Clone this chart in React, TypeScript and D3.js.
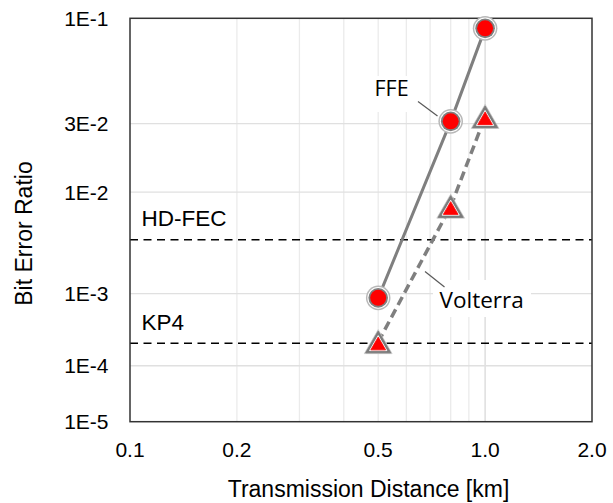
import React, { useEffect, useRef } from 'react';
import * as d3 from 'd3';

// distances [km]
const distances = [0.5, 0.8, 1.0];
const ffeBer = [8.9e-4, 3.1e-2, 9.1e-2];
const volterraBer = [2.3e-4, 7.6e-3, 3.3e-2];

const thresholds = [
  { name: 'HD-FEC', ber: 3.8e-3 },
  { name: 'KP4', ber: 2.2e-4 },
];

const xTicks = [0.1, 0.2, 0.5, 1.0, 2.0];
const xTickLabels = ['0.1', '0.2', '0.5', '1.0', '2.0'];
const xMinorGrid = [0.2, 0.3, 0.4, 0.5, 0.6, 0.7, 0.8, 0.9];
const yTicks = [1e-1, 3e-2, 1e-2, 1e-3, 1e-4, 1e-5];
const yTickLabels = ['1E-1', '3E-2', '1E-2', '1E-3', '1E-4', '1E-5'];

const W = 613;
const H = 503;

const App: React.FC = () => {
  const svgRef = useRef<SVGSVGElement>(null);

  useEffect(() => {
    if (!svgRef.current) return;
    const svg = d3.select(svgRef.current);
    svg.selectAll('*').remove();

    const left = 130, right = 592, top = 18.3, bottom = 421.7;

    const x = d3.scaleLog().domain([0.1, 2]).range([left, right]);
    // BER axis: log of -log10(BER)
    const yq = d3.scaleLog().domain([1, 5]).range([top, bottom]);
    const y = (b: number) => yq(-Math.log10(b));

    const sans = 'Liberation Sans, Arial, sans-serif';
    const calib = '"Open Sans", sans-serif';

    // grid
    const grid = svg.append('g');
    grid.selectAll('.vminor')
      .data(xMinorGrid)
      .enter().append('line')
      .attr('x1', d => x(d)).attr('x2', d => x(d))
      .attr('y1', top).attr('y2', bottom)
      .attr('stroke', '#ebebeb').attr('stroke-width', 1.3);
    grid.append('line')
      .attr('x1', x(1)).attr('x2', x(1))
      .attr('y1', top).attr('y2', bottom)
      .attr('stroke', '#d9d9d9').attr('stroke-width', 1.3);
    grid.selectAll('.hgrid')
      .data(yTicks.slice(1, -1))
      .enter().append('line')
      .attr('x1', left).attr('x2', right)
      .attr('y1', d => y(d)).attr('y2', d => y(d))
      .attr('stroke', '#e0e0e0').attr('stroke-width', 1.3);

    // threshold lines
    thresholds.forEach(t => {
      svg.append('line')
        .attr('x1', left).attr('x2', right)
        .attr('y1', y(t.ber)).attr('y2', y(t.ber))
        .attr('stroke', '#000').attr('stroke-width', 1.5)
        .attr('stroke-dasharray', '8,5.5');
      svg.append('text')
        .attr('x', 141.5).attr('y', y(t.ber) - 13.5)
        .attr('font-family', sans).attr('font-size', 22.5)
        .attr('fill', '#000')
        .text(t.name);
    });

    // frame
    svg.append('rect')
      .attr('x', left).attr('y', top)
      .attr('width', right - left).attr('height', bottom - top)
      .attr('fill', 'none').attr('stroke', '#333').attr('stroke-width', 1.5);

    // series lines
    const line = d3.line<[number, number]>()
      .x(d => x(d[0]))
      .y(d => y(d[1]));

    svg.append('path')
      .datum(distances.map((d, i) => [d, ffeBer[i]] as [number, number]))
      .attr('d', line)
      .attr('fill', 'none').attr('stroke', '#7f7f7f').attr('stroke-width', 3);

    svg.append('path')
      .datum(distances.map((d, i) => [d, volterraBer[i]] as [number, number]))
      .attr('d', line)
      .attr('fill', 'none').attr('stroke', '#7f7f7f').attr('stroke-width', 3.5)
      .attr('stroke-dasharray', '9,5');

    // circle markers
    const circ = svg.selectAll('.ffe')
      .data(distances.map((d, i) => [d, ffeBer[i]]))
      .enter().append('g')
      .attr('transform', d => `translate(${x(d[0])},${y(d[1])})`);
    [[12.3, '#b8b8b8'], [10.8, '#fff'], [9.8, '#7f7f7f'], [8, '#ff0000']].forEach(([r, c]) => {
      circ.append('circle').attr('r', r as number).attr('fill', c as string);
    });

    // triangle markers
    const tri = (R: number) => {
      const pts = [-90, 30, 150].map(a => {
        const rad = (a * Math.PI) / 180;
        return [R * Math.cos(rad), R * Math.sin(rad)];
      });
      return 'M' + pts.map(p => p.join(',')).join('L') + 'Z';
    };
    const trig = svg.selectAll('.vol')
      .data(distances.map((d, i) => [d, volterraBer[i]]))
      .enter().append('g')
      .attr('transform', d => `translate(${x(d[0])},${y(d[1]) + 3.6})`);
    [[16, '#c4c4c4'], [14.5, '#7a7a7a'], [10, '#fff'], [8.5, '#ff0000']].forEach(([r, c]) => {
      trig.append('path').attr('d', tri(r as number)).attr('fill', c as string)
        .attr('stroke', c as string).attr('stroke-width', 0.8).attr('stroke-linejoin', 'round');
    });

    // series labels
    svg.append('rect').attr('x', 370).attr('y', 76).attr('width', 46).attr('height', 36).attr('fill', '#fff');
    svg.append('text')
      .attr('x', 374.5).attr('y', 95.5)
      .attr('font-family', calib).attr('font-size', 21.5).attr('fill', '#000')
      .text('FFE');
    svg.append('line')
      .attr('x1', 418).attr('y1', 101.5).attr('x2', 437.5).attr('y2', 116)
      .attr('stroke', '#595959').attr('stroke-width', 1.2);

    svg.append('rect').attr('x', 433).attr('y', 280).attr('width', 98).attr('height', 37).attr('fill', '#fff');
    svg.append('text')
      .attr('x', 439.5).attr('y', 308.3)
      .attr('font-family', calib).attr('font-size', 22.5).attr('fill', '#000')
      .text('Volterra');
    svg.append('line')
      .attr('x1', 425).attr('y1', 271.5).attr('x2', 444.5).attr('y2', 287)
      .attr('stroke', '#595959').attr('stroke-width', 1.2);

    // tick labels
    svg.selectAll('.xt')
      .data(xTicks)
      .enter().append('text')
      .attr('x', d => x(d)).attr('y', 457)
      .attr('text-anchor', 'middle')
      .attr('font-family', sans).attr('font-size', 21).attr('fill', '#000')
      .text((d, i) => xTickLabels[i]);

    svg.selectAll('.yt')
      .data(yTicks)
      .enter().append('text')
      .attr('x', 108.5).attr('y', d => y(d) + 7.5)
      .attr('text-anchor', 'end')
      .attr('font-family', sans).attr('font-size', 21).attr('fill', '#000')
      .text((d, i) => yTickLabels[i]);

    // axis titles
    svg.append('text')
      .attr('x', 368.5).attr('y', 497)
      .attr('text-anchor', 'middle')
      .attr('font-family', sans).attr('font-size', 23).attr('fill', '#000')
      .text('Transmission Distance [km]');
    svg.append('text')
      .attr('transform', 'translate(31.5,233.5) rotate(-90)')
      .attr('text-anchor', 'middle')
      .attr('font-family', sans).attr('font-size', 23).attr('fill', '#000')
      .text('Bit Error Ratio');
  }, []);

  return (
    <svg
      ref={svgRef}
      width={W}
      height={H}
      style={{ position: 'absolute', left: 0, top: 0, background: '#fff' }}
    />
  );
};

export default App;
